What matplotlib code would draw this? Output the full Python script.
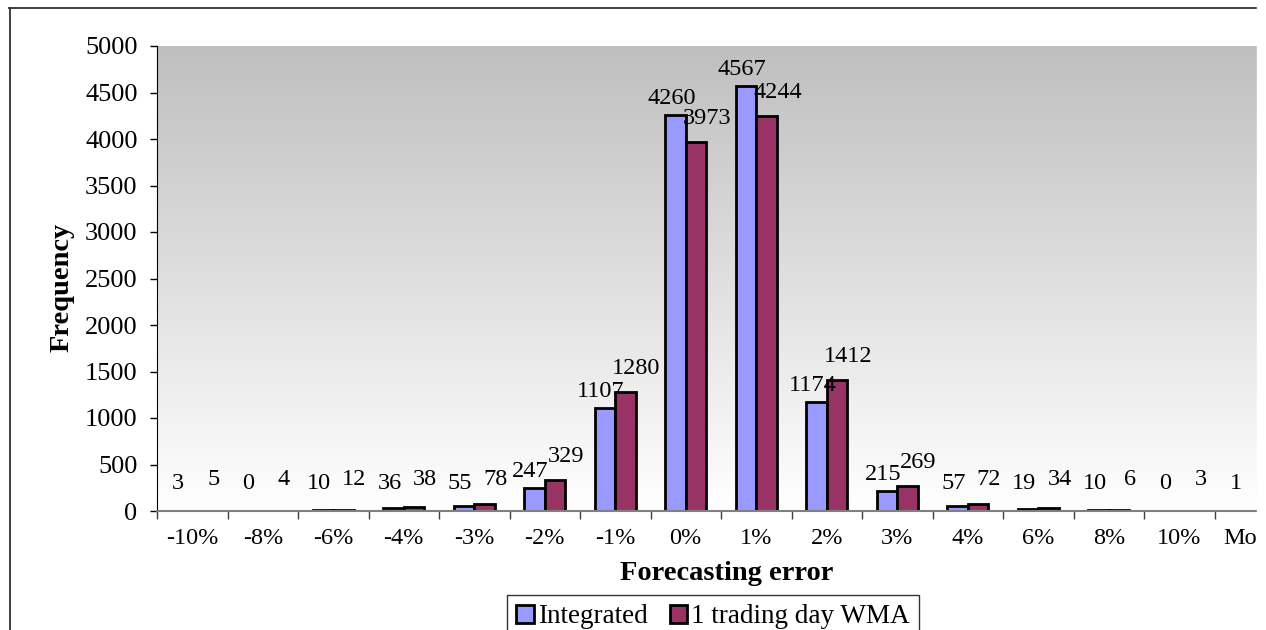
import numpy as np
import matplotlib.pyplot as plt
from matplotlib.colors import LinearSegmentedColormap
from matplotlib.lines import Line2D
from matplotlib.patches import Rectangle

categories = ['-10%', '-8%', '-6%', '-4%', '-3%', '-2%', '-1%', '0%',
              '1%', '2%', '3%', '4%', '6%', '8%', '10%', 'More']
integrated = [3, 0, 10, 36, 55, 247, 1107, 4260, 4567, 1174, 215, 57, 19, 10, 0, 1]
wma = [5, 4, 12, 38, 78, 329, 1280, 3973, 4244, 1412, 269, 72, 34, 6, 3, 1]

plt.rcParams['font.family'] = ['Liberation Serif', 'DejaVu Serif']

W, H = 1266, 630
fig = plt.figure(figsize=(W / 100, H / 100), dpi=100)

# plot area runs past the right edge of the picture (it is cut off in the original)
x0, x1, y_top, y_bot = 157, 1285, 46, 511
ax = fig.add_axes([x0 / W, 1 - y_bot / H, (x1 - x0) / W, (y_bot - y_top) / H])

x = np.arange(len(categories))
bw = 0.29

# grey-to-white gradient background
grad = np.linspace(1, 0, 256).reshape(-1, 1)
cmap = LinearSegmentedColormap.from_list('bg', ['#ffffff', '#bfbfbf'])
ax.imshow(grad, extent=[-0.5, len(categories) - 0.5, 0, 5000], aspect='auto',
          cmap=cmap, zorder=0, origin='upper')

b1 = ax.bar(x - bw / 2, integrated, bw, color='#9999ff', edgecolor='black',
            linewidth=2.0, label='Integrated', zorder=2)
b2 = ax.bar(x + bw / 2, wma, bw, color='#993366', edgecolor='black',
            linewidth=2.0, label='1 trading day WMA', zorder=2)

px_per_unit = (y_bot - y_top) / 5000
for xi, v in zip(x, integrated):
    dy = max(11, 22 - v * px_per_unit)
    ax.annotate(str(v), (xi - bw / 2, v), xytext=(-4, dy), textcoords='offset pixels',
                ha='center', va='baseline', fontsize=17.5, zorder=3)
for xi, v in zip(x[:-1], wma[:-1]):
    dy = max(18, 26 - v * px_per_unit)
    ax.annotate(str(v), (xi + bw / 2, v), xytext=(11, dy), textcoords='offset pixels',
                ha='center', va='baseline', fontsize=17.5, zorder=3)

ax.set_xlim(-0.5, len(categories) - 0.5)
ax.set_ylim(0, 5000)
ax.set_yticks(np.arange(0, 5001, 500))
ax.tick_params(axis='y', labelsize=19, length=5, width=1, pad=9)
ax.set_xticks(x)
ax.set_xticklabels(categories)
ax.tick_params(axis='x', which='major', length=0, labelsize=17.5, pad=12)
ax.set_xticks(np.arange(-0.5, len(categories), 1), minor=True)
ax.tick_params(axis='x', which='minor', length=6, width=1, color='#404040')

for s in ['top', 'right']:
    ax.spines[s].set_visible(False)
ax.spines['left'].set_color('black')
ax.spines['bottom'].set_color('#808080')
ax.spines['bottom'].set_linewidth(1.5)

fig.text(727 / W, 1 - 574 / H, 'Forecasting error', ha='center', va='center',
         fontsize=20.5, fontweight='bold')
fig.text(62 / W, 1 - 287 / H, 'Frequency', ha='center', va='center',
         fontsize=20.5, fontweight='bold', rotation=90)

leg = fig.legend(handles=[b1, b2], loc='upper left',
                 bbox_to_anchor=(507 / W, 1 - 595 / H), borderaxespad=0,
                 ncol=2, fontsize=19.5, frameon=True, fancybox=False,
                 handlelength=0.65, handleheight=0.65, handletextpad=0.15,
                 columnspacing=0.8, borderpad=0.35)
leg.get_frame().set_edgecolor('black')
leg.get_frame().set_linewidth(1.0)

# outer chart frame (left and top edges only are visible)
fig.add_artist(Line2D([9.5 / W, 9.5 / W], [0, 1 - 8 / H], color='#303030', lw=1.3))
fig.add_artist(Line2D([9 / W, 1257 / W], [1 - 8 / H, 1 - 8 / H], color='#303030', lw=1.3))
fig.add_artist(Rectangle((1257 / W, 0), 9 / W, 1, transform=fig.transFigure,
                         color='white', zorder=10))

fig.savefig('out.png', dpi=100)
